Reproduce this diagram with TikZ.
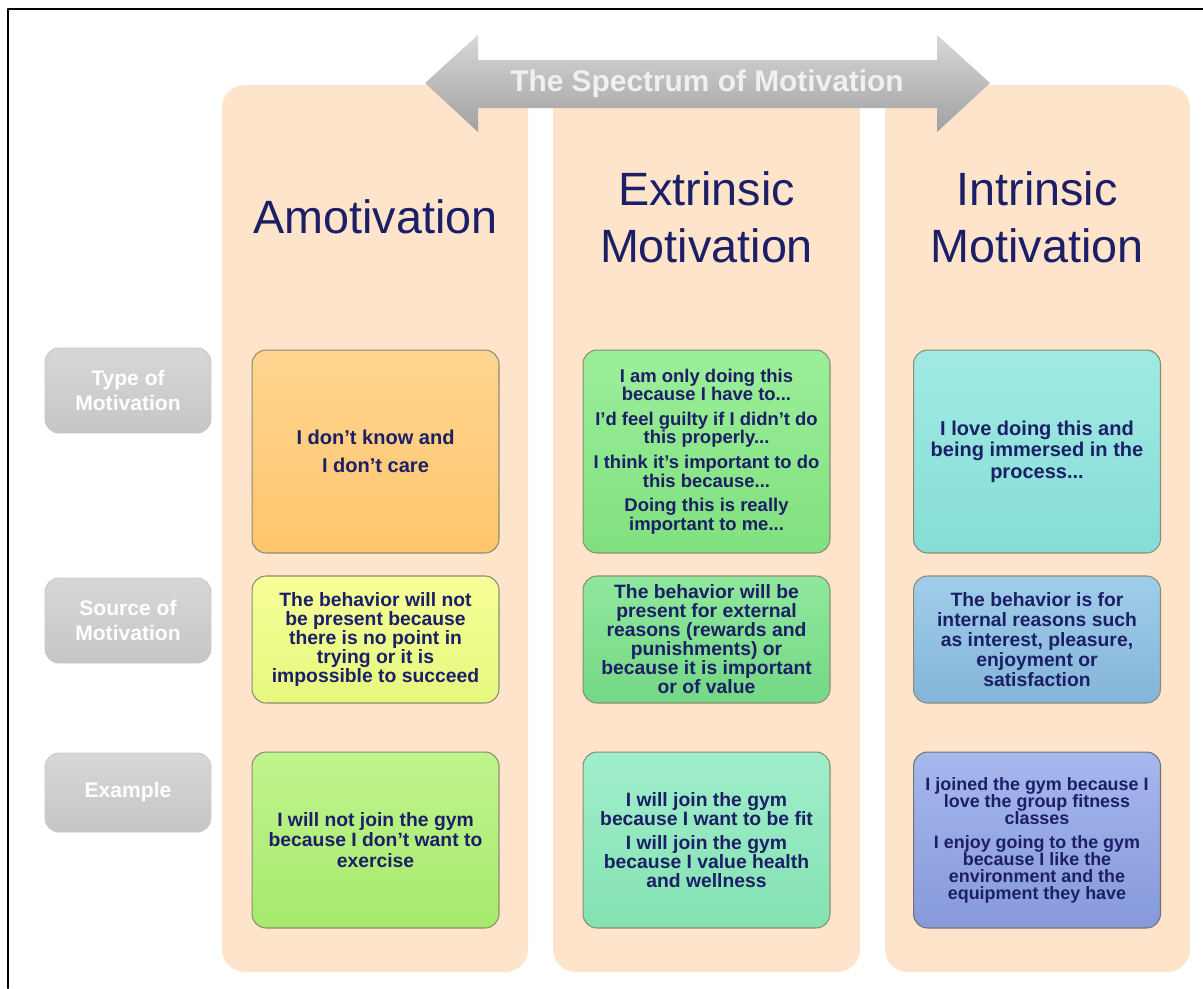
\documentclass[tikz,border=0pt]{standalone}
\usepackage{fontspec}
\setmainfont{Liberation Sans}
\definecolor{peach}{HTML}{FDE4CA}
\definecolor{navy}{HTML}{1C1F66}
\definecolor{labelgray}{HTML}{C6C6C6}
\definecolor{arrowgray}{HTML}{BDBDBD}
\definecolor{cellline}{HTML}{8C8C74}
% cell colours, top and bottom of each shading
\definecolor{amoTypeTop}{HTML}{FFD590}
\definecolor{amoTypeBot}{HTML}{FEC56C}
\definecolor{extTypeTop}{HTML}{9CEF9A}
\definecolor{extTypeBot}{HTML}{80E07E}
\definecolor{intTypeTop}{HTML}{A0EAE4}
\definecolor{intTypeBot}{HTML}{86DDD6}
\definecolor{amoSourceTop}{HTML}{F6FF98}
\definecolor{amoSourceBot}{HTML}{E6F87E}
\definecolor{extSourceTop}{HTML}{8FE89C}
\definecolor{extSourceBot}{HTML}{74D886}
\definecolor{intSourceTop}{HTML}{A0CDEA}
\definecolor{intSourceBot}{HTML}{84B4D8}
\definecolor{amoExampleTop}{HTML}{C0F48E}
\definecolor{amoExampleBot}{HTML}{A6EA6C}
\definecolor{extExampleTop}{HTML}{A0EECB}
\definecolor{extExampleBot}{HTML}{84E2B2}
\definecolor{intExampleTop}{HTML}{A6B8EC}
\definecolor{intExampleBot}{HTML}{8699DA}

\begin{document}
\begin{tikzpicture}[line cap=round,line join=round,x=0.02cm,y=-0.02cm,
		column/.style={fill=peach,rounded corners=13pt},
		cell/.style={draw=cellline,line width=0.6pt,rounded corners=8pt,minimum width=4.94cm,align=center,text=navy,inner sep=1pt,top color=#1Top,bottom color=#1Bot},
		rowlabel/.style={draw=black!22,line width=0.5pt,rounded corners=8pt,top color=labelgray!70!white,bottom color=labelgray,minimum width=3.32cm,align=center,text=white,font=\bfseries\fontsize{12}{14}\selectfont},
		heading/.style={text=navy,align=center,font=\fontsize{26.6}{32.3}\selectfont}]
	\useasboundingbox (0,0) rectangle (1203,988);
	\fill[white] (0,0) rectangle (1203,988);
	\draw [line width=1.3pt] (8,988) -- (8,9) -- (1203,9);
	% the three columns
	\fill[column] (222,85) rectangle (528,972);
	\fill[column] (553,85) rectangle (860,972);
	\fill[column] (885,85) rectangle (1190,972);
	% spectrum arrow
	\shade[top color=arrowgray!60!white,bottom color=arrowgray!85!black] (425,83) -- (478,35) -- (478,60) -- (937,60) -- (937,35) -- (990,83) -- (937,132) -- (937,108) -- (478,108) -- (478,132) -- cycle;
	\node[text=white!94!black,font=\bfseries\fontsize{17}{20}\selectfont] (spectrum) at (707,84) {The Spectrum of Motivation};
	% headings
	\node[heading] (amoHead) at (375.5,217) {Amotivation};
	\node[heading] (extHead) at (706.5,217) {Extrinsic\\Motivation};
	\node[heading] (intHead) at (1037,217) {Intrinsic\\Motivation};
	% row labels
	\node[rowlabel,minimum height=1.7cm] (typeLabel) at (128,390.5) {Type of\\Motivation};
	\node[rowlabel,minimum height=1.7cm] (sourceLabel) at (128,620.5) {Source of\\Motivation};
	\node[rowlabel,minimum height=1.58cm] (exampleLabel) at (128,792.5) {Example};
	% type of motivation
	\node[cell=amoType,minimum height=4.06cm,font=\bfseries\fontsize{11.4}{16}\selectfont] (amoType) at (375.5,451.5) {I don't know and\\I don't care};
	\node[cell=extType,minimum height=4.06cm,font=\bfseries\fontsize{10.5}{10.4}\selectfont] (extType) at (706.5,451.5) {I am only doing this\\because I have to...\\[3.8pt]I'd feel guilty if I didn't do\\this properly...\\[3.8pt]I think it's important to do\\this because...\\[3.8pt]Doing this is really\\important to me...};
	\node[cell=intType,minimum height=4.06cm,font=\bfseries\fontsize{11.4}{12.2}\selectfont] (intType) at (1037,451.5) {I love doing this and\\being immersed in the\\process...};
	% source of motivation
	\node[cell=amoSource,minimum height=2.54cm,font=\bfseries\fontsize{11}{10.8}\selectfont] (amoSource) at (375.5,639.5) {The behavior will not\\be present because\\there is no point in\\trying or it is\\impossible to succeed};
	\node[cell=extSource,minimum height=2.54cm,font=\bfseries\fontsize{11}{10.8}\selectfont] (extSource) at (706.5,639.5) {The behavior will be\\present for external\\reasons (rewards and\\punishments) or\\because it is important\\or of value};
	\node[cell=intSource,minimum height=2.54cm,font=\bfseries\fontsize{11}{11.3}\selectfont] (intSource) at (1037,639.5) {The behavior is for\\internal reasons such\\as interest, pleasure,\\enjoyment or\\satisfaction};
	% examples
	\node[cell=amoExample,minimum height=3.52cm,font=\bfseries\fontsize{11}{11.5}\selectfont] (amoExample) at (375.5,840) {I will not join the gym\\because I don't want to\\exercise};
	\node[cell=extExample,minimum height=3.52cm,font=\bfseries\fontsize{11}{10.8}\selectfont] (extExample) at (706.5,840) {I will join the gym\\because I want to be fit\\[3pt]I will join the gym\\because I value health\\and wellness};
	\node[cell=intExample,minimum height=3.52cm,draw=black!55,font=\bfseries\fontsize{10.2}{9.7}\selectfont] (intExample) at (1037,840) {I joined the gym because I\\love the group fitness\\classes\\[4pt]I enjoy going to the gym\\because I like the\\environment and the\\equipment they have};
\end{tikzpicture}
\end{document}
